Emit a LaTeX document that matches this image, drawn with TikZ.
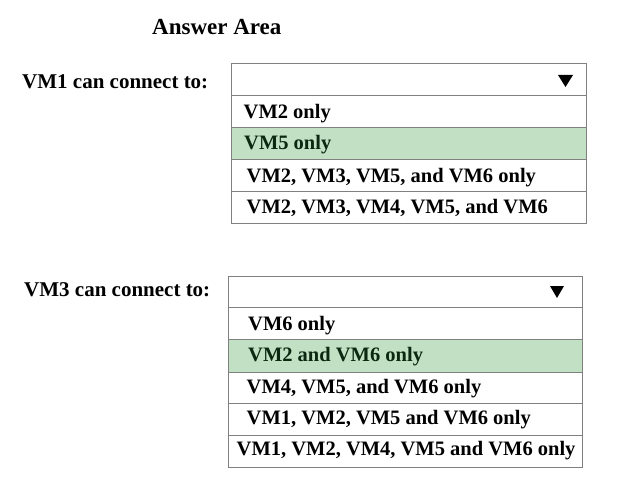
\documentclass[tikz,border=0pt]{standalone}
\usepackage{fontspec}
\setmainfont{Liberation Serif}
\definecolor{boxgray}{RGB}{128,128,128}
\definecolor{selgreen}{RGB}{194,224,196}
\definecolor{seltext}{RGB}{12,40,16}
\begin{document}
\begin{tikzpicture}[x=1pt,y=-1pt,
  lbl/.style={anchor=base west,inner sep=0pt,font=\fontsize{20.5}{24}\selectfont\bfseries},
  qlbl/.style={lbl,font=\fontsize{21}{25}\selectfont\bfseries},
  ttl/.style={lbl,font=\fontsize{23}{27}\selectfont\bfseries},
  row/.style={draw=boxgray,line width=0.9pt},
  sel/.style={row,fill=selgreen},
  tri/.style={fill=black,draw=none}]
\useasboundingbox (0,0) rectangle (617,497);
\fill[white] (0,0) rectangle (617,497);
% titles
\node[ttl] (title) at (152,35) {Answer Area};
\node[qlbl] (q1) at (22,89) {VM1 can connect to:};
\node[qlbl] (q2) at (24,296) {VM3 can connect to:};
% box 1
\draw[row] (231,63) rectangle (586,95);
\draw[row] (231,95) rectangle (586,127);
\draw[sel] (231,127) rectangle (586,159);
\draw[row] (231,159) rectangle (586,191);
\draw[row] (231,191) rectangle (586,223);
\fill[tri] (558,75) -- (573,75) -- (565.5,87) -- cycle;
\node[lbl] (a1) at (243.5,118.5) {VM2 only};
\node[lbl,text=seltext] (a2) at (244,149.5) {VM5 only};
\node[lbl] (a3) at (246.5,182.5) {VM2, VM3, VM5, and VM6 only};
\node[lbl] (a4) at (246.5,213.5) {VM2, VM3, VM4, VM5, and VM6};
% box 2
\draw[row] (228,276) rectangle (582,307);
\draw[row] (228,307) rectangle (582,339);
\draw[sel] (228,339) rectangle (582,372);
\draw[row] (228,372) rectangle (582,403);
\draw[row] (228,403) rectangle (582,435);
\draw[row] (228,435) rectangle (582,467);
\fill[tri] (550,286) -- (564,286) -- (557,298) -- cycle;
\node[lbl] (b1) at (248,330) {VM6 only};
\node[lbl,text=seltext] (b2) at (248,361.5) {VM2 and VM6 only};
\node[lbl] (b3) at (246.5,393.5) {VM4, VM5, and VM6 only};
\node[lbl] (b4) at (246.5,424.5) {VM1, VM2, VM5 and VM6 only};
\node[lbl] (b5) at (236.5,455) {VM1, VM2, VM4, VM5 and VM6 only};
\end{tikzpicture}
\end{document}
